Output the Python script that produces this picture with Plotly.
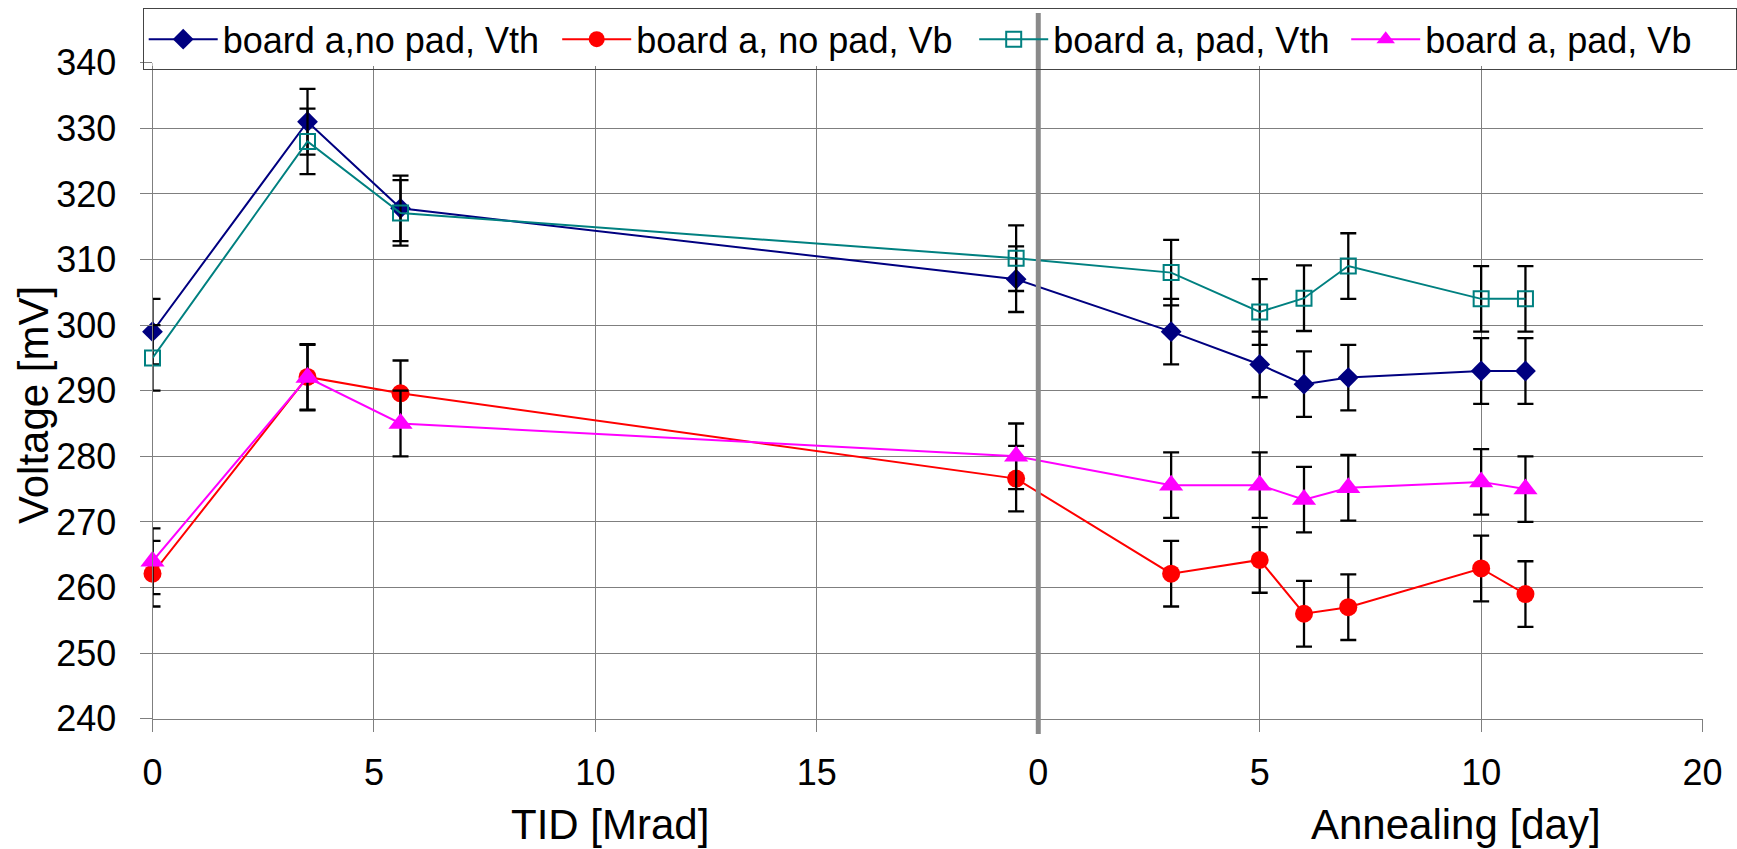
import plotly.graph_objects as go

# Irradiation steps [Mrad] and annealing times [day]
tid_mrad = [0, 3.5, 5.6, 19.5]
anneal_day = [3, 5, 6, 7, 10, 11]

# Measured voltages [mV]: irradiation part, then annealing part
vth_nopad_tid = [299, 331, 317.8, 307]
vth_nopad_ann = [299, 294, 291, 292, 293, 293]
vb_nopad_tid = [262.1, 292.1, 289.6, 276.6]
vb_nopad_ann = [262.1, 264.2, 256, 257, 262.9, 259]
vth_pad_tid = [295, 328, 317.1, 310.2]
vth_pad_ann = [308, 302, 304.1, 309, 304, 304]
vb_pad_tid = [264, 292, 285, 280]
vb_pad_ann = [275.6, 275.6, 273.4, 275.2, 276.1, 275]

# Uncertainty on every point [mV]
err_mv = 5

# Tick labels of the two x scales
tid_ticks = [0, 5, 10, 15]
tid_tick_labels = ["0", "5", "10", "15"]
anneal_ticks = [0, 5, 10, 15]
anneal_tick_labels = ["0", "5", "10", "20"]

series_names = [
    "board a,no pad, Vth",
    "board a, no pad, Vb",
    "board a, pad, Vth",
    "board a, pad, Vb",
]

# Annealing day 0 sits right after the last irradiation step
ANNEAL_ORIGIN = 20
X_MAX = 35

W, H = 1737, 849
FONT = "Liberation Sans, Arial, sans-serif"
GRID = "#7f7f7f"

# plot frame in pixels
PX_L, PX_R, PX_T, PX_B = 152.5, 1702.6, 62.7, 718.7


def shared_x(tid, days):
    return list(tid) + [ANNEAL_ORIGIN + d for d in days]


series = [
    (series_names[0], vth_nopad_tid, vth_nopad_ann,
     dict(symbol="diamond", size=16, color="#000080"), "#000080", 329.5),
    (series_names[1], vb_nopad_tid, vb_nopad_ann,
     dict(symbol="circle", size=18, color="#ff0000"), "#ff0000", 333),
    (series_names[2], vth_pad_tid, vth_pad_ann,
     dict(symbol="square-open", size=15, color="#008080",
          line=dict(color="#008080", width=2)), "#008080", 288),
    (series_names[3], vb_pad_tid, vb_pad_ann,
     dict(symbol="triangle-up", size=21, color="#ff00ff"), "#ff00ff", 305),
]

fig = go.Figure()
for name, ytid, yann, marker, color, lw in series:
    ys = list(ytid) + list(yann)
    fig.add_trace(go.Scatter(
        x=shared_x(tid_mrad, anneal_day),
        y=ys,
        name=name,
        mode="lines+markers",
        line=dict(color=color, width=2),
        marker=marker,
        error_y=dict(type="constant", value=err_mv, color="black",
                     thickness=2.3, width=8),
        legendwidth=lw,
        cliponaxis=False,
    ))

tickvals = list(tid_ticks) + [ANNEAL_ORIGIN + t for t in anneal_ticks]
ticktext = list(tid_tick_labels) + list(anneal_tick_labels)

fig.update_layout(
    width=W, height=H, autosize=False,
    margin=dict(l=0, r=0, t=0, b=0, pad=0),
    paper_bgcolor="white", plot_bgcolor="white",
    font=dict(family=FONT, color="black", size=36),
    showlegend=True,
    legend=dict(
        orientation="h",
        x=142.7 / W, y=1 - 8.3 / H, xanchor="left", yanchor="top",
        bgcolor="rgba(0,0,0,0)", bordercolor="#444", borderwidth=1,
        font=dict(family=FONT, size=36, color="black"),
        itemwidth=69, tracegroupgap=0,
    ),
    xaxis=dict(
        domain=[PX_L / W, PX_R / W], range=[0, X_MAX],
        tickmode="array", tickvals=tickvals, ticktext=ticktext,
        showgrid=True, gridcolor=GRID, gridwidth=1,
        showline=True, linecolor=GRID, linewidth=1,
        ticks="outside", ticklen=12, tickcolor=GRID, tickwidth=1,
        tickfont=dict(family=FONT, size=36, color="black"),
        ticklabelstandoff=10,
        zeroline=False, automargin=False, anchor="y",
    ),
    yaxis=dict(
        domain=[1 - PX_B / H, 1 - PX_T / H], range=[240, 340],
        tickmode="linear", tick0=240, dtick=10,
        showgrid=True, gridcolor=GRID, gridwidth=1,
        showline=True, linecolor=GRID, linewidth=1,
        ticks="outside", ticklen=12, tickcolor=GRID, tickwidth=1,
        tickfont=dict(family=FONT, size=36, color="black"),
        ticklabelstandoff=16,
        zeroline=False, automargin=False, anchor="x",
    ),
    shapes=[
        # white backing of the legend box
        dict(type="rect", xref="paper", yref="paper", layer="above",
             x0=PX_L / W, x1=1716 / W, y0=1 - 66 / H, y1=1 - 9 / H,
             fillcolor="white", line=dict(width=0)),
        # separator between irradiation and annealing
        dict(type="line", xref="x", yref="paper", layer="above",
             x0=ANNEAL_ORIGIN, x1=ANNEAL_ORIGIN,
             y0=1 - 734 / H, y1=1 - 13 / H,
             line=dict(color="#8a8a8a", width=5)),
    ],
    annotations=[
        dict(text="Voltage [mV]", xref="paper", yref="paper",
             x=33 / W, y=1 - 405 / H, textangle=-90, showarrow=False,
             xanchor="center", yanchor="middle",
             font=dict(family=FONT, size=42, color="black")),
        dict(text="TID [Mrad]", xref="paper", yref="paper",
             x=610 / W, y=1 - 824 / H, showarrow=False,
             xanchor="center", yanchor="middle",
             font=dict(family=FONT, size=42, color="black")),
        dict(text="Annealing [day]", xref="paper", yref="paper",
             x=1456 / W, y=1 - 824 / H, showarrow=False,
             xanchor="center", yanchor="middle",
             font=dict(family=FONT, size=42, color="black")),
    ],
)

fig.write_html("out.html")
